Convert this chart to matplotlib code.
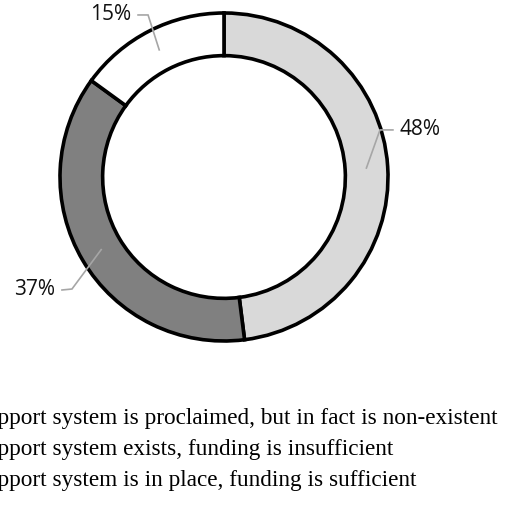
import numpy as np
import matplotlib
matplotlib.use("Agg")
import matplotlib.pyplot as plt
from matplotlib.patches import Patch

# data
labels = ["Support system is proclaimed, but in fact is non-existent",
          "Support system exists, funding is insufficient",
          "Support system is in place, funding is sufficient"]
shares = [48, 37, 15]
colors = ["#d9d9d9", "#808080", "#ffffff"]

W, H = 508, 515
fig = plt.figure(figsize=(W / 100, H / 100), dpi=100)
# donut centre ~ (224, 177) px, outer radius ~164 px
cx, cy, R = 224, 177, 164
ax = fig.add_axes([(cx - R) / W, (H - cy - R) / H, 2 * R / W, 2 * R / H])
ax.set_aspect("equal")
ax.axis("off")

wedges, _ = ax.pie(shares, colors=colors, startangle=90, counterclock=False,
                   radius=1.0, center=(0, 0), frame=False,
                   wedgeprops=dict(width=0.26, edgecolor="black", linewidth=2.6))
ax.set_xlim(-1, 1)
ax.set_ylim(-1, 1)

# percentage labels with elbow leader lines
elbows = [(0.951, 0.287, 1.03, 0.287), (-0.927, -0.683, -0.988, -0.689),
          (-0.463, 0.988, -0.524, 0.988)]
for w, val, (ex, ey, tx, ty) in zip(wedges, shares, elbows):
    ang = np.deg2rad((w.theta1 + w.theta2) / 2)
    px, py = 0.87 * np.cos(ang), 0.87 * np.sin(ang)
    ax.plot([px, ex, tx], [py, ey, ty], color="#a6a6a6", lw=1.2,
            solid_joinstyle="miter", clip_on=False)
    ha = "left" if tx > 0 else "right"
    ax.text(tx + (0.04 if tx > 0 else -0.04), ty, f"{val}%", ha=ha, va="center",
            fontsize=15, family="Open Sans", color="#111111")

handles = [Patch(facecolor=c, edgecolor="black") for c in colors]
fig.legend(handles, labels, loc="upper left", bbox_to_anchor=(-0.122, 0.208),
           frameon=False, handlelength=1.0, handletextpad=0.5,
           borderpad=0, borderaxespad=0, labelspacing=0.41,
           prop=dict(family="Liberation Serif", size=16.75))

fig.savefig("out.png", dpi=100)
